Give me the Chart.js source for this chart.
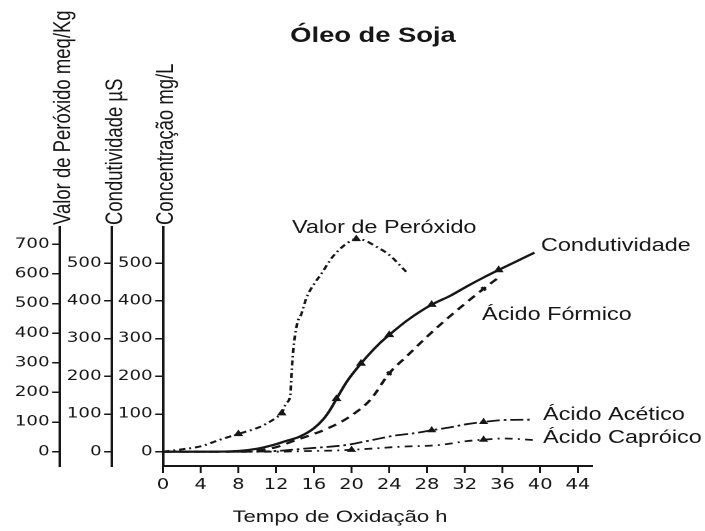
<!DOCTYPE html>
<html>
<head>
<meta charset="utf-8">
<script src="https://cdn.jsdelivr.net/npm/chart.js@4.4.0/dist/chart.umd.min.js"></script>
<style>
html,body{margin:0;padding:0;background:#fff;overflow:hidden;}
#wrap{width:542px;height:531px;transform:scale(1.3007,1);transform-origin:0 0;}
</style>
</head>
<body>
<div id="wrap"><canvas id="c" width="542" height="531"></canvas></div>
<script>
// ---- data ----
const xTicks = [0,4,8,12,16,20,24,28,32,36,40,44];
const peroxideTicks = [0,100,200,300,400,500,600,700];
const conductivityTicks = [0,100,200,300,400,500];
const concentrationTicks = [0,100,200,300,400,500];

const peroxideTime  = [0,2,4,6,8,10,11,12,12.6,13.1,13.5,13.65,13.8,14.2,14.7,15.2,16,16.7,18,19.5,20.5,21.5,22.3,24,25.8];
const peroxideValue = [0,8,18,40,60,80,95,115,130,165,190,270,337,428,467,518,565,596,658,703,718,712,698,664,607];

const conductivityTime  = [0,4,8,10,12,13,14.5,16,17,17.7,18.4,19.5,21,23,24,26,28.5,30.5,32.2,34,35.6,37.5,39.4];
const conductivityValue = [0,0,2,8,20,28,40,62,86,110,140,186,234,288,310,350,390,414,438,462,482,505,528];

const formicTime  = [0,8,10,12,14,15.2,17.5,19.8,22,24,25.8,28,30,32,34,35.7];
const formicValue = [0,0,3,12,30,40,62,93,138,208,252,305,350,392,432,464];

const aceticTime  = [0,8,12,14,16,18,19.5,22,24.4,26.9,28.5,30.5,32.2,34,36.1,39.3];
const aceticValue = [0,0,2,6,10,14,18,30,42,50,57,65,73,79,84,85];

const caproicTime  = [0,12,14,16,18,20,22,25,29.4,32.2,34,36.1,39.3];
const caproicValue = [0,0,1,2,3,5,8,13,18,28,32,35,31];

const seriesLabels = ['Valor de Peróxido','Condutividade','Ácido Fórmico','Ácido Acético','Ácido Capróico'];

// ---- style ----
const SX = 705/542;
const INK = '#161616';
const markerTimes = {
  per:[8,12.6,20.5], cond:[18.4,21,24,28.5,35.6], form:[24,34], acet:[28.5,34], capr:[20,34]
};
const toPts = (t,v) => t.map((x,i)=>({x:x,y:v[i]}));
const mk = key => ctx => (ctx.raw && markerTimes[key].includes(ctx.raw.x)) ? 2.3 : 0;

Chart.defaults.font.family = "'Liberation Sans', Arial, sans-serif";
Chart.defaults.color = INK;

const textPlugin = {
  id:'texts',
  afterDraw(chart){
    const c = chart.ctx;
    c.save();
    c.fillStyle = INK;
    c.textBaseline = 'alphabetic';
    // title
    c.font = "bold 21px 'Liberation Sans', Arial, sans-serif";
    c.textAlign = 'center';
    c.fillText('Óleo de Soja', 373/SX, 42);
    // x axis title
    c.font = "17px 'Liberation Sans', Arial, sans-serif";
    c.fillText('Tempo de Oxidação h', 340/SX, 522);
    // rotated axis titles
    c.textAlign = 'left';
    c.font = "18.5px 'Liberation Sans', Arial, sans-serif";
    const rot = (txt, x, y) => { c.save(); c.translate(x, y); c.rotate(-Math.PI/2); c.fillText(txt, 0, 0); c.restore(); };
    rot('Valor de Peróxido meq/Kg', 70/SX, 225);
    rot('Condutividade µS', 122/SX, 225);
    rot('Concentração mg/L', 173/SX, 225);
    // curve labels
    c.font = "18px 'Liberation Sans', Arial, sans-serif";
    c.fillText(seriesLabels[0], 292/SX, 233);
    c.fillText(seriesLabels[1], 541/SX, 251);
    c.fillText(seriesLabels[2], 482/SX, 320);
    c.fillText(seriesLabels[3], 543/SX, 420);
    c.fillText(seriesLabels[4], 543/SX, 443);
    c.restore();
  }
};

const yAxisBase = (ticksArr, min, max, width, weight) => ({
  type:'linear', position:'left', min:min, max:max, weight:weight,
  afterBuildTicks: s => { s.ticks = ticksArr.map(v=>({value:v})); },
  afterFit: s => { s.width = width; },
  grid:{drawOnChartArea:false, tickLength:6, lineWidth:1.5, color:INK},
  border:{display:true, color:INK, width:2},
  ticks:{font:{family:"'DejaVu Sans', sans-serif", size:14}, color:INK, padding:2}
});

new Chart(document.getElementById('c'), {
  type:'line',
  data:{
    datasets:[
      {label:seriesLabels[0], data:toPts(peroxideTime,peroxideValue), yAxisID:'yPer',
       borderColor:INK, backgroundColor:INK, borderWidth:2, borderDash:[5,3,1.5,3],
       pointRadius:mk('per'), pointStyle:'triangle', cubicInterpolationMode:'monotone'},
      {label:seriesLabels[1], data:toPts(conductivityTime,conductivityValue), yAxisID:'yCond',
       borderColor:INK, backgroundColor:INK, borderWidth:2.2,
       pointRadius:mk('cond'), pointStyle:'triangle', cubicInterpolationMode:'monotone'},
      {label:seriesLabels[2], data:toPts(formicTime,formicValue), yAxisID:'yConc',
       borderColor:INK, backgroundColor:INK, borderWidth:2.2, borderDash:[7,5],
       pointRadius:mk('form'), pointStyle:'crossRot', cubicInterpolationMode:'monotone'},
      {label:seriesLabels[3], data:toPts(aceticTime,aceticValue), yAxisID:'yConc',
       borderColor:INK, backgroundColor:INK, borderWidth:1.8, borderDash:[10,3,2,3],
       pointRadius:mk('acet'), pointStyle:'triangle', cubicInterpolationMode:'monotone'},
      {label:seriesLabels[4], data:toPts(caproicTime,caproicValue), yAxisID:'yConc',
       borderColor:INK, backgroundColor:INK, borderWidth:1.8, borderDash:[6,4,1.5,4],
       pointRadius:mk('capr'), pointStyle:'triangle', cubicInterpolationMode:'monotone'}
    ]
  },
  options:{
    responsive:false, animation:false, devicePixelRatio:2,
    layout:{padding:{top:227, bottom:35, left:0, right:542-592/SX}},
    plugins:{legend:{display:false}, tooltip:{enabled:false}, title:{display:false}},
    scales:{
      x:{type:'linear', position:'bottom', min:0, max:45.5,
         afterBuildTicks: s => { s.ticks = xTicks.map(v=>({value:v})); },
         afterFit: s => { s.height = 30; },
         grid:{drawOnChartArea:false, tickLength:7, lineWidth:1.5, color:INK},
         border:{display:true, color:INK, width:2},
         ticks:{font:{family:"'DejaVu Sans', sans-serif", size:15}, color:INK, padding:3, maxRotation:0}},
      yConc: yAxisBase(concentrationTicks, -37.9, 596, 125.3-86.1, 0),
      yCond: yAxisBase(conductivityTicks, -37.9, 596, 86.1-46.1, 1),
      yPer:  yAxisBase(peroxideTicks, -48.3, 758.4, 46.1, 2)
    }
  },
  plugins:[textPlugin]
});
</script>
</body>
</html>
